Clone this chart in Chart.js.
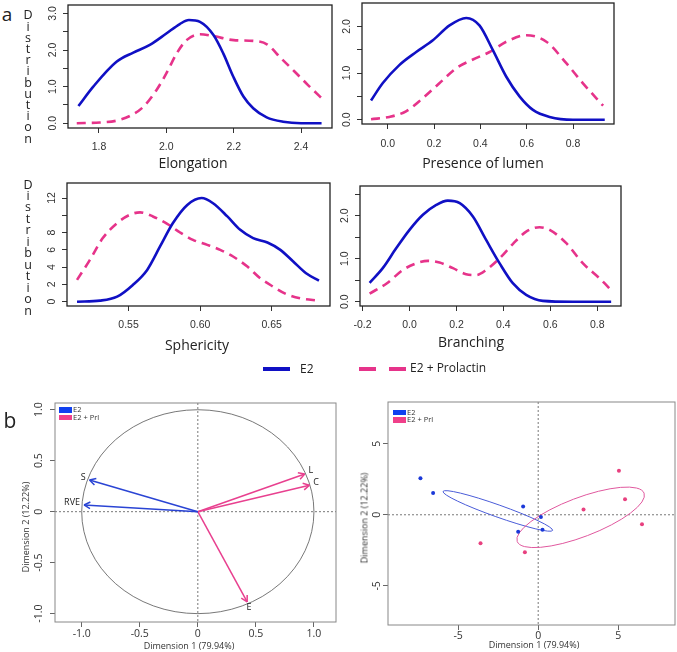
<!DOCTYPE html>
<html>
<head>
<meta charset="utf-8">
<script src="https://cdn.jsdelivr.net/npm/chart.js@4.4.0/dist/chart.umd.min.js"></script>
<style>
    body {
        margin: 0;
        width: 677px;
        height: 652px;
        position: relative;
        overflow: hidden;
        background: #fff;
        font-family: "Open Sans", sans-serif;
        color: #222;
    }
    canvas { position: absolute; }
    .t { position: absolute; white-space: nowrap; line-height: 1; }
    .c { transform: translate(-50%, -50%); }
    .r { transform: translate(-50%, -50%) rotate(-90deg); }
    .bar { position: absolute; height: 4px; }
</style>
</head>
<body>
<script>
    // ---- density curves (a) ----
    const elongX_E2 = [1.739, 1.783, 1.852, 1.902, 1.951, 2.0, 2.04, 2.067, 2.1, 2.14, 2.169, 2.199, 2.229, 2.258, 2.298, 2.347, 2.4, 2.461]
    const elongY_E2 = [0.47, 1.0, 1.68, 1.93, 2.14, 2.45, 2.71, 2.82, 2.77, 2.41, 1.91, 1.27, 0.73, 0.41, 0.16, 0.04, 0.0, 0.0]
    const elongX_Prl = [1.734, 1.803, 1.852, 1.892, 1.932, 1.971, 2.0, 2.031, 2.06, 2.1, 2.14, 2.2, 2.258, 2.3, 2.34, 2.38, 2.42, 2.471]
    const elongY_Prl = [0.0, 0.02, 0.07, 0.2, 0.45, 0.91, 1.36, 1.91, 2.27, 2.43, 2.38, 2.27, 2.25, 2.15, 1.78, 1.42, 1.05, 0.6]

    const lumenX_E2 = [-0.072, -0.022, 0.05, 0.123, 0.195, 0.267, 0.339, 0.396, 0.454, 0.512, 0.569, 0.627, 0.699, 0.8, 0.937]
    const lumenY_E2 = [0.41, 0.78, 1.17, 1.45, 1.70, 2.02, 2.18, 2.02, 1.49, 0.92, 0.50, 0.21, 0.06, 0.0, 0.0]
    const lumenX_Prl = [-0.072, 0.007, 0.079, 0.151, 0.223, 0.295, 0.368, 0.44, 0.512, 0.598, 0.685, 0.771, 0.843, 0.93]
    const lumenY_Prl = [0.01, 0.06, 0.18, 0.46, 0.78, 1.10, 1.29, 1.45, 1.67, 1.81, 1.67, 1.21, 0.78, 0.30]

    const spherX_E2 = [0.514, 0.53, 0.542, 0.553, 0.563, 0.572, 0.581, 0.591, 0.601, 0.609, 0.619, 0.628, 0.637, 0.647, 0.656, 0.665, 0.674, 0.683]
    const spherY_E2 = [0.0, 0.12, 0.58, 1.94, 3.68, 6.39, 9.1, 11.2, 12.0, 11.4, 9.87, 8.32, 7.36, 6.85, 6.0, 4.65, 3.29, 2.44]
    const spherX_Prl = [0.514, 0.523, 0.532, 0.542, 0.551, 0.558, 0.567, 0.577, 0.586, 0.595, 0.605, 0.614, 0.623, 0.633, 0.642, 0.651, 0.66, 0.67, 0.683]
    const spherY_Prl = [2.52, 4.84, 7.36, 9.1, 10.07, 10.34, 9.87, 9.02, 8.01, 7.16, 6.58, 6.0, 5.23, 4.06, 2.71, 1.74, 0.89, 0.39, 0.12]

    const branchX_E2 = [-0.17, -0.114, -0.057, 0.0, 0.057, 0.114, 0.163, 0.214, 0.27, 0.327, 0.384, 0.44, 0.497, 0.568, 0.696, 0.859]
    const branchY_E2 = [0.44, 0.78, 1.24, 1.67, 2.02, 2.25, 2.35, 2.29, 1.98, 1.43, 0.89, 0.43, 0.16, 0.02, 0.0, 0.0]
    const branchX_Prl = [-0.17, -0.096, -0.028, 0.028, 0.078, 0.128, 0.185, 0.241, 0.284, 0.327, 0.384, 0.44, 0.497, 0.554, 0.597, 0.668, 0.739, 0.81, 0.859]
    const branchY_Prl = [0.19, 0.43, 0.74, 0.89, 0.95, 0.91, 0.78, 0.64, 0.62, 0.74, 1.01, 1.34, 1.63, 1.73, 1.67, 1.36, 0.89, 0.54, 0.27]

    // tick values and which ones get a label
    const elongXTicks = [1.8, 2.0, 2.2, 2.4]
    const elongYTicks = [0, 0.5, 1, 1.5, 2, 2.5, 3]
    const elongYLabels = [0, 1, 2, 3]
    const lumenXTicks = [0, 0.2, 0.4, 0.6, 0.8]
    const lumenYTicks = [0, 0.5, 1, 1.5, 2]
    const lumenYLabels = [0, 1, 2]
    const spherXTicks = [0.55, 0.60, 0.65]
    const spherYTicks = [0, 2, 4, 6, 8, 10, 12]
    const spherYLabels = [0, 2, 4, 6, 8, 12]
    const branchXTicks = [-0.2, 0, 0.2, 0.4, 0.6, 0.8]
    const branchYTicks = [0, 0.5, 1, 1.5, 2, 2.5]
    const branchYLabels = [0, 1, 2]

    // ---- PCA (b) ----
    const varNames = ['S', 'RVE', 'L', 'C', 'E']
    const varDim1 = [-0.933, -0.98, 0.921, 0.961, 0.425]
    const varDim2 = [0.31, 0.066, 0.37, 0.26, -0.885]
    const varGroup = ['E2', 'E2', 'Prl', 'Prl', 'Prl']
    const varTicks = [-1, -0.5, 0, 0.5, 1]

    const indE2Dim1 = [-7.35, -6.56, -0.94, -1.25, 0.17, 0.27]
    const indE2Dim2 = [2.56, 1.53, 0.58, -1.2, -0.16, -1.06]
    const indPrlDim1 = [5.04, 5.42, 2.83, 6.48, -3.6, -0.83]
    const indPrlDim2 = [3.1, 1.1, 0.38, -0.66, -2.0, -2.63]
    const indTicks = [-5, 0, 5]

    // confidence ellipses: centre, semi-axis vectors (data units)
    const ellE2Center = [-2.52, 0.27]
    const ellE2Major = [3.42, -1.37]
    const ellE2Minor = [-0.126, -0.40]
    const ellPrlCenter = [2.65, -0.18]
    const ellPrlMajor = [3.96, 1.70]
    const ellPrlMinor = [0.435, -1.28]

    const BLUE = '#1010c4'
    const PINK = '#e6338a'
    const ML = 45, MT = 12, MR = 8, MB = 34

    function makeCtx(box) {
        const c = document.createElement('canvas')
        c.width = box[2] - box[0] + ML + MR
        c.height = box[3] - box[1] + MT + MB
        c.style.left = (box[0] - ML) + 'px'
        c.style.top = (box[1] - MT) + 'px'
        document.body.appendChild(c)
        return c.getContext('2d')
    }

    function text(str, x, y, size, cls, extra) {
        const d = document.createElement('div')
        d.className = 't ' + (cls || 'c')
        d.style.left = x + 'px'
        d.style.top = y + 'px'
        d.style.fontSize = size + 'px'
        if (extra) d.style.cssText += extra
        d.textContent = str
        document.body.appendChild(d)
        return d
    }

    function vword(word, cx, firstY, step) {
        const d = document.createElement('div')
        d.className = 't'
        d.style.cssText = `left:${cx - 10}px;top:${firstY - step / 2}px;width:20px;text-align:center;line-height:${step}px;font-size:12.5px`
        d.innerHTML = word.split('').join('<br>')
        document.body.appendChild(d)
    }

    const boxPlugin = {
        id: 'box',
        afterDraw(chart, args, opts) {
            const a = chart.chartArea, ctx = chart.ctx
            ctx.save()
            ctx.strokeStyle = opts.color
            ctx.lineWidth = opts.width
            ctx.strokeRect(a.left, a.top, a.right - a.left, a.bottom - a.top)
            ctx.restore()
        }
    }

    const zeroPlugin = {
        id: 'zero',
        beforeDatasetsDraw(chart) {
            const {ctx, chartArea: a, scales: {x, y}} = chart
            const px = x.getPixelForValue(0), py = y.getPixelForValue(0)
            ctx.save()
            ctx.setLineDash([2, 2])
            ctx.strokeStyle = '#555'
            ctx.lineWidth = 0.8
            ctx.beginPath()
            ctx.moveTo(px, a.top); ctx.lineTo(px, a.bottom)
            ctx.moveTo(a.left, py); ctx.lineTo(a.right, py)
            ctx.stroke()
            ctx.restore()
        }
    }

    // ellipse given centre + two semi-axis vectors, mapped through the scales
    const ellipsePlugin = {
        id: 'ellipses',
        beforeDatasetsDraw(chart, args, opts) {
            const {ctx, scales: {x, y}} = chart
            opts.items.forEach(e => {
                const cx = x.getPixelForValue(e.c[0]), cy = y.getPixelForValue(e.c[1])
                const ux = x.getPixelForValue(e.c[0] + e.u[0]) - cx, uy = y.getPixelForValue(e.c[1] + e.u[1]) - cy
                const vx = x.getPixelForValue(e.c[0] + e.v[0]) - cx, vy = y.getPixelForValue(e.c[1] + e.v[1]) - cy
                ctx.save()
                ctx.beginPath()
                ctx.save()
                ctx.transform(ux, uy, vx, vy, cx, cy)
                ctx.arc(0, 0, 1, 0, Math.PI * 2)
                ctx.restore()
                ctx.strokeStyle = e.color
                ctx.lineWidth = e.width
                ctx.stroke()
                ctx.restore()
            })
        }
    }

    const arrowPlugin = {
        id: 'arrows',
        afterDatasetsDraw(chart) {
            const {ctx, scales: {x, y}} = chart
            const ox = x.getPixelForValue(0), oy = y.getPixelForValue(0)
            varNames.forEach((n, i) => {
                const tx = x.getPixelForValue(varDim1[i]), ty = y.getPixelForValue(varDim2[i])
                const ang = Math.atan2(ty - oy, tx - ox)
                const col = varGroup[i] === 'E2' ? '#2a44d4' : '#e8408f'
                ctx.save()
                ctx.strokeStyle = col
                ctx.lineWidth = 1.5
                ctx.beginPath()
                ;[-0.5, 0.5].forEach(d => {
                    ctx.moveTo(tx, ty)
                    ctx.lineTo(tx - 7 * Math.cos(ang + d), ty - 7 * Math.sin(ang + d))
                })
                ctx.stroke()
                const ux = Math.cos(ang), uy = Math.sin(ang)
                ctx.fillStyle = '#222'
                ctx.font = '9px "Open Sans"'
                if (Math.abs(ux) > Math.abs(uy)) {
                    ctx.textAlign = ux < 0 ? 'right' : 'left'
                    ctx.textBaseline = 'middle'
                } else {
                    ctx.textAlign = 'center'
                    ctx.textBaseline = uy > 0 ? 'top' : 'bottom'
                }
                ctx.fillText(n, tx + 4 * ux, ty + 4 * uy - 2)
                ctx.restore()
            })
        }
    }

    function axisX(min, max, ticks, fmt, font, pad, color) {
        return {
            type: 'linear', min: min, max: max,
            afterBuildTicks: s => { s.ticks = ticks.map(v => ({value: v})) },
            afterFit: s => { s.height = MB },
            grid: {drawOnChartArea: false, tickLength: 5, tickColor: color, tickWidth: 1},
            border: {display: false},
            ticks: {autoSkip: false, maxRotation: 0, padding: pad, color: '#333', font: font, callback: fmt}
        }
    }

    function axisY(min, max, ticks, fmt, font, pad, color) {
        return {
            type: 'linear', min: min, max: max,
            afterBuildTicks: s => { s.ticks = ticks.map(v => ({value: v})) },
            afterFit: s => { s.width = ML },
            grid: {drawOnChartArea: false, tickLength: 5, tickColor: color, tickWidth: 1},
            border: {display: false},
            ticks: {autoSkip: false, minRotation: 90, maxRotation: 90, crossAlign: 'center', padding: pad, color: '#333', font: font, callback: fmt}
        }
    }

    const rFont = {family: 'Liberation Sans', size: 10.5}

    function pts(xs, ys) { return xs.map((v, i) => ({x: v, y: ys[i]})) }

    function densityChart(box, xE2, yE2, xPrl, yPrl, xr, yr, xTicks, yTicks, yLabels, xDig, yDig, xPad, yPad) {
        new Chart(makeCtx(box), {
            type: 'line',
            data: {
                datasets: [{
                    label: 'E2',
                    data: pts(xE2, yE2),
                    borderColor: BLUE, borderWidth: 2.6,
                    pointRadius: 0, cubicInterpolationMode: 'monotone'
                }, {
                    label: 'E2 + Prolactin',
                    data: pts(xPrl, yPrl),
                    borderColor: PINK, borderWidth: 2.6, borderDash: [9, 6],
                    pointRadius: 0, cubicInterpolationMode: 'monotone'
                }]
            },
            options: {
                responsive: false, animation: false,
                layout: {padding: {top: MT, right: MR, left: 0, bottom: 0}},
                plugins: {legend: {display: false}, tooltip: {enabled: false}, box: {color: '#222', width: 1.3}},
                scales: {
                    x: axisX(xr[0], xr[1], xTicks, v => v.toFixed(xDig), rFont, xPad, '#333'),
                    y: axisY(yr[0], yr[1], yTicks, v => yLabels.includes(v) ? v.toFixed(yDig) : '', rFont, yPad, '#333')
                }
            },
            plugins: [boxPlugin]
        })
    }

    densityChart([68, 5, 332, 128], elongX_E2, elongY_E2, elongX_Prl, elongY_Prl,
        [1.708, 2.492], [-0.13, 3.23], elongXTicks, elongYTicks, elongYLabels, 1, 1, 8, 3)
    densityChart([362, 3, 614, 124], lumenX_E2, lumenY_E2, lumenX_Prl, lumenY_Prl,
        [-0.111, 0.977], [-0.092, 2.5], lumenXTicks, lumenYTicks, lumenYLabels, 1, 1, 9, 3)
    densityChart([67, 183, 330, 306], spherX_E2, spherY_E2, spherX_Prl, spherY_Prl,
        [0.507, 0.6907], [-0.5, 13.74], spherXTicks, spherYTicks, spherYLabels, 2, 0, 8, 4.5)
    densityChart([360, 186, 621, 306], branchX_E2, branchY_E2, branchX_Prl, branchY_Prl,
        [-0.211, 0.901], [-0.1, 2.69], branchXTicks, branchYTicks, branchYLabels, 1, 1, 8, 3)

    const pFont = {family: 'Open Sans', size: 10.5}
    const fmt1 = v => v === 0 ? '0' : v.toFixed(1)

    // variables factor map
    new Chart(makeCtx([55, 403, 336, 622]), {
        type: 'scatter',
        data: {
            datasets: varNames.map((n, i) => ({
                label: n,
                data: [{x: 0, y: 0}, {x: varDim1[i], y: varDim2[i]}],
                showLine: true, pointRadius: 0,
                borderColor: varGroup[i] === 'E2' ? '#2a44d4' : '#e8408f',
                borderWidth: 1.5
            }))
        },
        options: {
            responsive: false, animation: false,
            layout: {padding: {top: MT, right: MR, left: 0, bottom: 0}},
            plugins: {
                legend: {display: false}, tooltip: {enabled: false},
                box: {color: '#888', width: 1},
                ellipses: {items: [{c: [0, 0], u: [1, 0], v: [0, 1], color: '#555', width: 0.8}]}
            },
            scales: {
                x: axisX(-1.23, 1.19, varTicks, fmt1, pFont, 1, '#666'),
                y: axisY(-1.082, 1.066, varTicks, fmt1, pFont, 2, '#666')
            }
        },
        plugins: [boxPlugin, zeroPlugin, ellipsePlugin, arrowPlugin]
    })

    // individuals factor map
    new Chart(makeCtx([388, 402, 675, 625]), {
        type: 'scatter',
        data: {
            datasets: [{
                label: 'E2', data: pts(indE2Dim1, indE2Dim2),
                pointRadius: 2, backgroundColor: '#1a38d8', borderWidth: 0
            }, {
                label: 'E2 + Prl', data: pts(indPrlDim1, indPrlDim2),
                pointRadius: 2, backgroundColor: '#e8407f', borderWidth: 0
            }]
        },
        options: {
            responsive: false, animation: false,
            layout: {padding: {top: MT, right: MR, left: 0, bottom: 0}},
            plugins: {
                legend: {display: false}, tooltip: {enabled: false},
                box: {color: '#888', width: 1},
                ellipses: {items: [
                    {c: ellE2Center, u: ellE2Major, v: ellE2Minor, color: '#4a5cd8', width: 1},
                    {c: ellPrlCenter, u: ellPrlMajor, v: ellPrlMinor, color: '#e0589e', width: 1}
                ]}
            },
            scales: {
                x: axisX(-9.375, 8.54, indTicks, v => String(v), pFont, 0, '#666'),
                y: axisY(-7.75, 7.93, indTicks, v => String(v), pFont, 1.5, '#666')
            }
        },
        plugins: [boxPlugin, zeroPlugin, ellipsePlugin]
    })

    // ---- text ----
    text('a', 7, 14, 19)
    text('b', 10, 420, 21)
    vword('Distribution', 28, 15, 11.2)
    vword('Distribution', 28, 184.3, 11.45)
    text('Elongation', 193, 163, 14)
    text('Presence of lumen', 483, 163, 14)
    text('Sphericity', 197, 345, 14)
    text('Branching', 471, 341.7, 14)

    // shared legend
    const legend = [[263, 27, BLUE], [359, 17, PINK], [389, 17, PINK]]
    legend.forEach(l => {
        const b = document.createElement('div')
        b.className = 'bar'
        b.style.cssText += `left:${l[0]}px;top:367px;width:${l[1]}px;background:${l[2]}`
        document.body.appendChild(b)
    })
    text('E2', 300, 369, 12, 't', 'transform:translate(0,-50%)')
    text('E2 + Prolactin', 410, 368, 12, 't', 'transform:translate(0,-50%)')

    // small legends inside PCA panels
    ;[[59, 407], [393, 409.5]].forEach(p => {
        [['E2', '#1040f0'], ['E2 + Prl', '#f0408a']].forEach((e, k) => {
            const b = document.createElement('div')
            b.style.cssText = `position:absolute;left:${p[0]}px;top:${p[1] + k * 7.5}px;width:13px;height:5.5px;background:${e[1]}`
            document.body.appendChild(b)
            text(e[0], p[0] + 14, p[1] + k * 7.5 + 3, 7.5, 't', 'transform:translate(0,-50%);color:#333')
        })
    })

    text('Dimension 1 (79.94%)', 189, 645, 9, 'c', 'color:#333')
    text('Dimension 1 (79.94%)', 534, 643.5, 9, 'c', 'color:#333')
    text('Dimension 2 (12.22%)', 25, 527, 9, 'r', 'color:#333')
    text('Dimension 2 (12.22%)', 364, 518, 9, 'r', 'color:#333')
</script>
</body>
</html>
